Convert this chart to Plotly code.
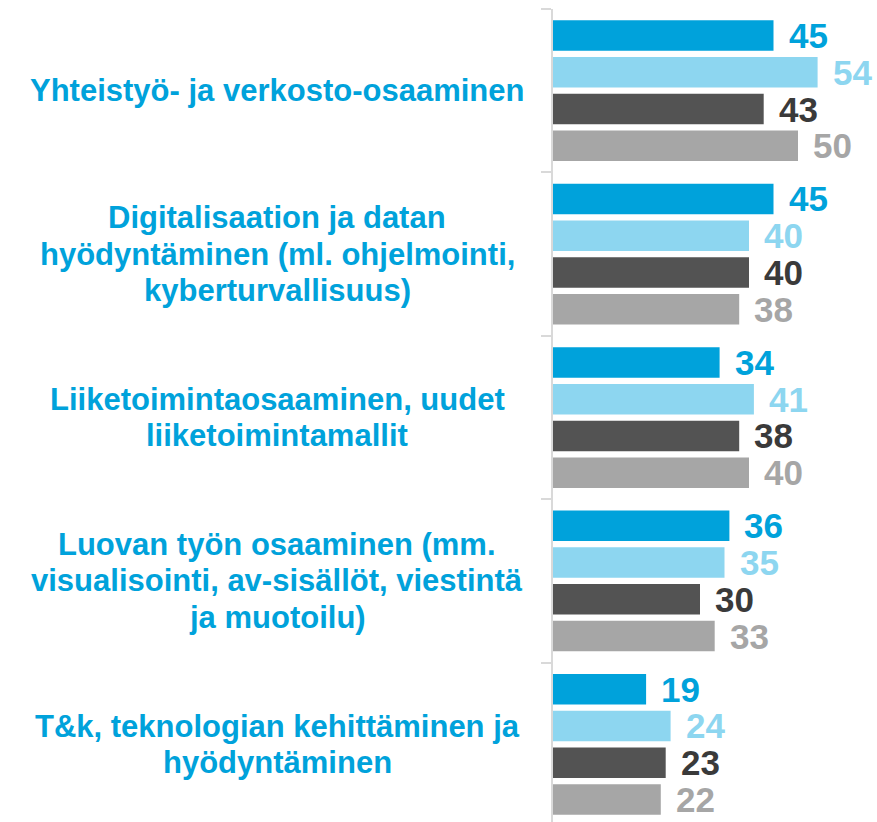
import plotly.graph_objects as go

# Osaamisalueet (rivitetyt otsikot) ja neljän sarjan arvot
categories = [
    ["Yhteistyö- ja verkosto-osaaminen"],
    ["Digitalisaation ja datan", "hyödyntäminen (ml. ohjelmointi,", "kyberturvallisuus)"],
    ["Liiketoimintaosaaminen, uudet", "liiketoimintamallit"],
    ["Luovan työn osaaminen (mm.", "visualisointi, av-sisällöt, viestintä", "ja muotoilu)"],
    ["T&k, teknologian kehittäminen ja", "hyödyntäminen"],
]
series_names = ["Sarja 1", "Sarja 2", "Sarja 3", "Sarja 4"]
series_values = [
    [45, 45, 34, 36, 19],
    [54, 40, 41, 35, 24],
    [43, 40, 38, 30, 23],
    [50, 38, 40, 33, 22],
]

bar_colors = ["#00A2DB", "#8DD6F0", "#535353", "#A6A6A6"]
label_colors = ["#00A2DB", "#8DD6F0", "#3A3A3A", "#A6A6A6"]
cat_color = "#00A2DB"
FONT = "Liberation Sans, Arial, sans-serif"

W, H = 877, 822
LEFT, TOP = 553, 9
plot_w = W - LEFT

positions = list(range(len(categories)))
n_series = len(series_values)
bargap = 0.1
slot = (1 - bargap) / n_series

fig = go.Figure()
for k, (name, vals) in enumerate(zip(series_names, series_values)):
    fig.add_trace(go.Bar(
        name=name, x=vals, y=positions, orientation="h",
        marker=dict(color=bar_colors[k], line=dict(width=0)),
        showlegend=False, hoverinfo="skip",
    ))

annotations = []
# arvotekstit palkkien perään
for k, vals in enumerate(series_values):
    for i, v in enumerate(vals):
        yc = positions[i] - (1 - bargap) / 2 + slot * (k + 0.5)
        annotations.append(dict(
            x=v, y=yc, xref="x", yref="y", text=str(v), showarrow=False,
            xanchor="left", yanchor="middle", xshift=13,
            font=dict(family=FONT, size=35, color=label_colors[k], weight="bold"),
        ))

# luokkaotsikot vasemmalle, rivi kerrallaan
line_h = 36.5
label_cx = (277 - LEFT) / plot_w
for i, lines in enumerate(categories):
    n = len(lines)
    for j, line in enumerate(lines):
        annotations.append(dict(
            x=label_cx, y=positions[i], xref="paper", yref="y", text=line,
            showarrow=False, xanchor="center", yanchor="middle",
            yshift=-(j - (n - 1) / 2) * line_h,
            font=dict(family=FONT, size=31, color=cat_color, weight="bold"),
        ))

fig.update_layout(
    width=W, height=H,
    margin=dict(l=LEFT, r=0, t=TOP, b=0, pad=0),
    paper_bgcolor="white", plot_bgcolor="white",
    barmode="group", bargap=bargap, bargroupgap=0.17,
    annotations=annotations,
    xaxis=dict(range=[0, plot_w / 4.9], visible=False, showgrid=False, zeroline=False),
    yaxis=dict(
        range=[4.475, -0.5], showgrid=False, zeroline=False,
        tickmode="array", tickvals=[p - 0.5 for p in positions] + [4.5],
        showticklabels=False, ticks="outside", ticklen=10, tickwidth=2,
        tickcolor="#D9D9D9", showline=True, linecolor="#D9D9D9", linewidth=2,
    ),
)

fig.write_html("out.html")
